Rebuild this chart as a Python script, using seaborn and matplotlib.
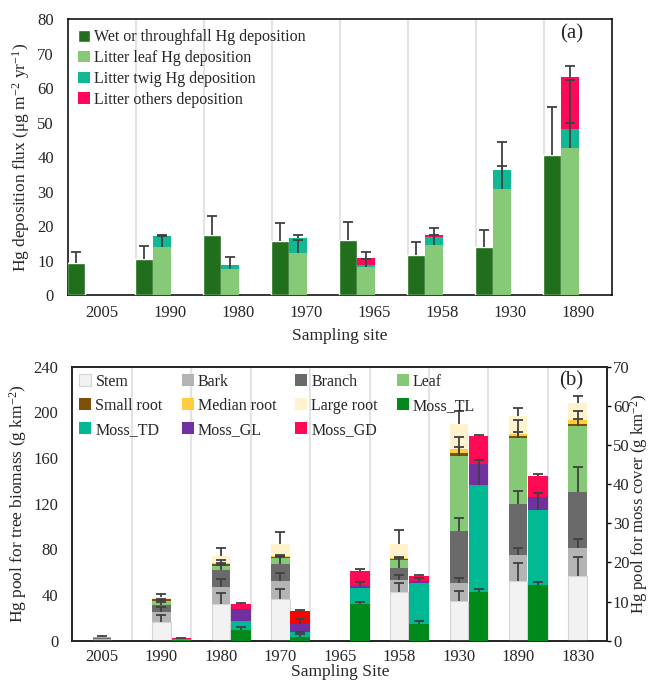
import numpy as np
import matplotlib
matplotlib.use("Agg")
import matplotlib.pyplot as plt
import seaborn as sns

# ---- panel (a): Hg deposition flux ----
sites_a = ["2005", "1990", "1980", "1970", "1965", "1958", "1930", "1890"]
wet = [9.4, 10.5, 17.3, 15.6, 16.0, 11.5, 14.05, 40.6]
wet_err = [3.2, 3.6, 5.7, 5.4, 5.3, 4.0, 4.85, 13.8]
litter_leaf = [0, 14.0, 7.5, 12.2, 8.05, 14.5, 30.7, 42.6]
litter_twig = [0, 3.0, 1.1, 4.4, 0.75, 2.3, 5.6, 5.6]
litter_other = [0, 0, 0, 0, 1.8, 0.6, 0, 15.0]
litter_leaf_err = [0, 3.2, 3.5, 3.8, 2.3, 3.0, 6.6, 7.2]
litter_twig_err = [0, 0.5, 0, 0.7, 0, 0, 8.2, 14.0]
litter_other_err = [0, 0, 0, 0, 1.9, 2.1, 0, 3.1]

# ---- panel (b): Hg pools ----
sites_b = ["2005", "1990", "1980", "1970", "1965", "1958", "1930", "1890", "1830"]
stem = [0.8, 16.4, 32.1, 36.2, 0, 42.4, 34.8, 52.6, 56.7]
bark = [0.9, 8.5, 15.2, 16.4, 0, 10.8, 15.5, 22.5, 24.2]
branch = [0.9, 6.1, 14.6, 14.3, 0, 10.7, 45.8, 44.4, 49.1]
leaf = [0.7, 3.5, 3.8, 5.5, 0, 6.8, 65.7, 57.8, 58.1]
small_root = [0.1, 1.7, 1.5, 1.2, 0, 1.1, 2.9, 2.0, 1.4]
median_root = [0.05, 0.4, 0.6, 0.6, 0, 0.6, 3.2, 1.7, 3.8]
large_root = [0.05, 1.9, 6.7, 10.5, 0, 12.3, 21.6, 15.8, 15.2]
stem_err = [0, 6.0, 10.0, 8.8, 0, 8.4, 9.0, 15.7, 16.9]
bark_err = [0, 4.9, 6.5, 7.0, 0, 4.1, 4.6, 5.8, 8.2]
branch_err = [0, 3.0, 8.8, 7.9, 0, 9.1, 11.6, 11.6, 22.4]
leaf_err = [0, 1.5, 1.0, 0.6, 0, 0, 16.4, 16.0, 13.1]
small_root_err = [0, 0.5, 0.5, 0.5, 0, 0.5, 5.2, 3.8, 0]
median_root_err = [0.6, 0, 0, 0, 0, 0, 0, 0, 0.6]
large_root_err = [0, 2.1, 6.4, 10.2, 0, 12.3, 11.7, 6.7, 5.8]

moss_tl = [0, 0.25, 2.7, 1.0, 9.3, 4.3, 12.4, 14.2, 0]
moss_td = [0, 0.05, 2.3, 1.15, 4.2, 10.4, 27.4, 19.2, 0]
moss_gl = [0, 0.05, 3.0, 2.1, 0.5, 0.6, 5.3, 3.4, 0]
moss_gd = [0, 0.25, 1.3, 3.3, 3.8, 1.2, 7.2, 5.3, 0]
moss_tl_err = [0, 0, 0.9, 0.7, 0.7, 0.8, 0.8, 0.9, 0]
moss_td_err = [0, 0, 0, 0.15, 0, 0, 6.4, 4.4, 0]
moss_gl_err = [0, 0, 0, 1.2, 1.1, 0.6, 0, 0, 0]
moss_gd_err = [0, 0.1, 0.2, 0.4, 0.4, 0.3, 0.2, 0.4, 0]

sns.set_theme(style="white")
plt.rcParams["font.family"] = ["Liberation Serif", "DejaVu Serif"]
plt.rcParams["mathtext.fontset"] = "custom"
plt.rcParams["mathtext.rm"] = "Liberation Serif"
plt.rcParams["mathtext.it"] = "Liberation Serif:italic"

ERR_COLOR = "#404040"


def add_err(ax, xs, bottoms, vals, errs):
    xs = np.asarray(xs, float)
    tops = np.asarray(bottoms, float) + np.asarray(vals, float)
    errs = np.asarray(errs, float)
    m = errs > 0
    if not m.any():
        return
    ax.errorbar(xs[m], tops[m], yerr=[np.zeros(m.sum()), errs[m]], fmt="none",
                ecolor=ERR_COLOR, elinewidth=1.3, capsize=0, zorder=5)
    ax.plot(xs[m], tops[m] + errs[m], ls="none", marker="_", ms=7, mew=1.3,
            color=ERR_COLOR, zorder=5)


def stack(ax, xs, series, width, start=0.0):
    bottom = np.full(len(xs), start, dtype=float)
    for vals, errs, color, label, edge in series:
        vals = np.asarray(vals, float)
        ax.bar(xs, vals, width=width, bottom=bottom, color=color, label=label,
               edgecolor=edge if edge else color, linewidth=0.8 if edge else 0, zorder=3)
        add_err(ax, xs, bottom, vals, errs)
        bottom = bottom + vals


def frame(ax, n):
    ax.set_xlim(-0.5, n - 0.5)
    ax.set_xticks(np.arange(n))
    ax.set_xticks(np.arange(0.5, n - 0.5), minor=True)
    ax.grid(False)
    ax.grid(True, axis="x", which="minor", color="#e3e3e3", lw=1.5, zorder=0)
    ax.tick_params(axis="x", which="both", length=0, labelsize=12, pad=7)
    for s in ax.spines.values():
        s.set_color("black")
        s.set_linewidth(1.1)


fig = plt.figure(figsize=(6.51, 6.82), dpi=100)

# ---------------- panel (a) ----------------
ax1 = fig.add_axes([0.104, 0.5674, 0.8356, 0.4047])
xa = np.arange(len(sites_a))
ax1.bar(xa - 0.375, wet, width=0.265, color="#216e1c", label="Wet or throughfall Hg deposition", zorder=3)
add_err(ax1, xa - 0.375, np.zeros(len(xa)), wet, wet_err)
stack(ax1, xa - 0.11, [
    (litter_leaf, litter_leaf_err, "#86c977", "Litter leaf Hg deposition", None),
    (litter_twig, litter_twig_err, "#12b894", "Litter twig Hg deposition", None),
    (litter_other, litter_other_err, "#ff0a5a", "Litter others deposition", None),
], width=0.27)
frame(ax1, len(sites_a))
ax1.set_xticklabels(sites_a)
ax1.set_ylim(0, 80)
ax1.set_yticks(np.arange(0, 81, 10))
ax1.tick_params(axis="y", length=0, pad=10, labelsize=12)
ax1.set_ylabel("Hg deposition flux (μg m$^{-2}$ yr$^{-1}$)", fontsize=12.5, labelpad=4)
ax1.set_xlabel("Sampling site", fontsize=12.5, labelpad=5)
ax1.text(0.926, 0.945, "(a)", transform=ax1.transAxes, fontsize=15, ha="center", va="center")
ax1.legend(loc="upper left", bbox_to_anchor=(0.0, 1.0), frameon=False, fontsize=11.5,
           handlelength=0.75, handleheight=0.75, handletextpad=0.25, labelspacing=0.3,
           borderaxespad=0.25)

# ---------------- panel (b) ----------------
ax2 = fig.add_axes([0.111, 0.0606, 0.822, 0.4017])
ax2r = ax2.twinx()
xb = np.arange(len(sites_b))
stack(ax2, xb, [
    (stem, stem_err, "#f2f2f2", "Stem", "#d4d4d4"),
    (bark, bark_err, "#b4b4b4", "Bark", None),
    (branch, branch_err, "#6a6a6a", "Branch", None),
    (leaf, leaf_err, "#85c977", "Leaf", None),
    (small_root, small_root_err, "#7f4f06", "Small root", None),
    (median_root, median_root_err, "#ffcd3c", "Median root", None),
    (large_root, large_root_err, "#fff2cc", "Large root", None),
], width=0.31)
gd_colors = ["#ff0a55"] * len(sites_b)
gd_colors[3] = "#ff0000"
stack(ax2r, xb + 0.335, [
    (moss_tl, moss_tl_err, "#008a1c", "Moss_TL", None),
    (moss_td, moss_td_err, "#00b894", "Moss_TD", None),
    (moss_gl, moss_gl_err, "#7030a0", "Moss_GL", None),
    (moss_gd, moss_gd_err, gd_colors, "Moss_GD", None),
], width=0.33)
frame(ax2, len(sites_b))
ax2.tick_params(axis="x", pad=6)
ax2.set_xticklabels(sites_b)
ax2.set_ylim(0, 240)
ax2.set_yticks(np.arange(0, 241, 40))
ax2.tick_params(axis="y", length=0, pad=10, labelsize=12)
ax2r.set_ylim(0, 70)
ax2r.set_yticks(np.arange(0, 71, 10))
ax2r.tick_params(axis="y", length=3, width=1, pad=1, labelsize=12, right=True, color="black")
ax2r.grid(False)
ax2.set_ylabel("Hg pool for tree biomass (g km$^{-2}$)", fontsize=12.5, labelpad=3)
ax2r.set_ylabel("Hg pool for moss cover (g km$^{-2}$)", fontsize=12, labelpad=-1, rotation=90)
ax2.set_xlabel("Sampling Site", fontsize=12.5, labelpad=-1)
ax2r.text(0.933, 0.948, "(b)", transform=ax2r.transAxes, fontsize=15, ha="center", va="center")

h1, l1 = ax2.get_legend_handles_labels()
h2, l2 = ax2r.get_legend_handles_labels()
hd = dict(zip(l1 + l2, h1 + h2))
order = ["Stem", "Small root", "Moss_TD", "Bark", "Median root", "Moss_GL",
         "Branch", "Large root", "Moss_GD", "Leaf", "Moss_TL"]
ax2r.legend([hd[k] for k in order], order, loc="upper left", ncol=4, frameon=False,
            fontsize=11.5, handlelength=0.75, handleheight=0.75, handletextpad=0.25,
            labelspacing=0.5, columnspacing=1.2, borderaxespad=0.05)

fig.savefig("out.png", dpi=100)
